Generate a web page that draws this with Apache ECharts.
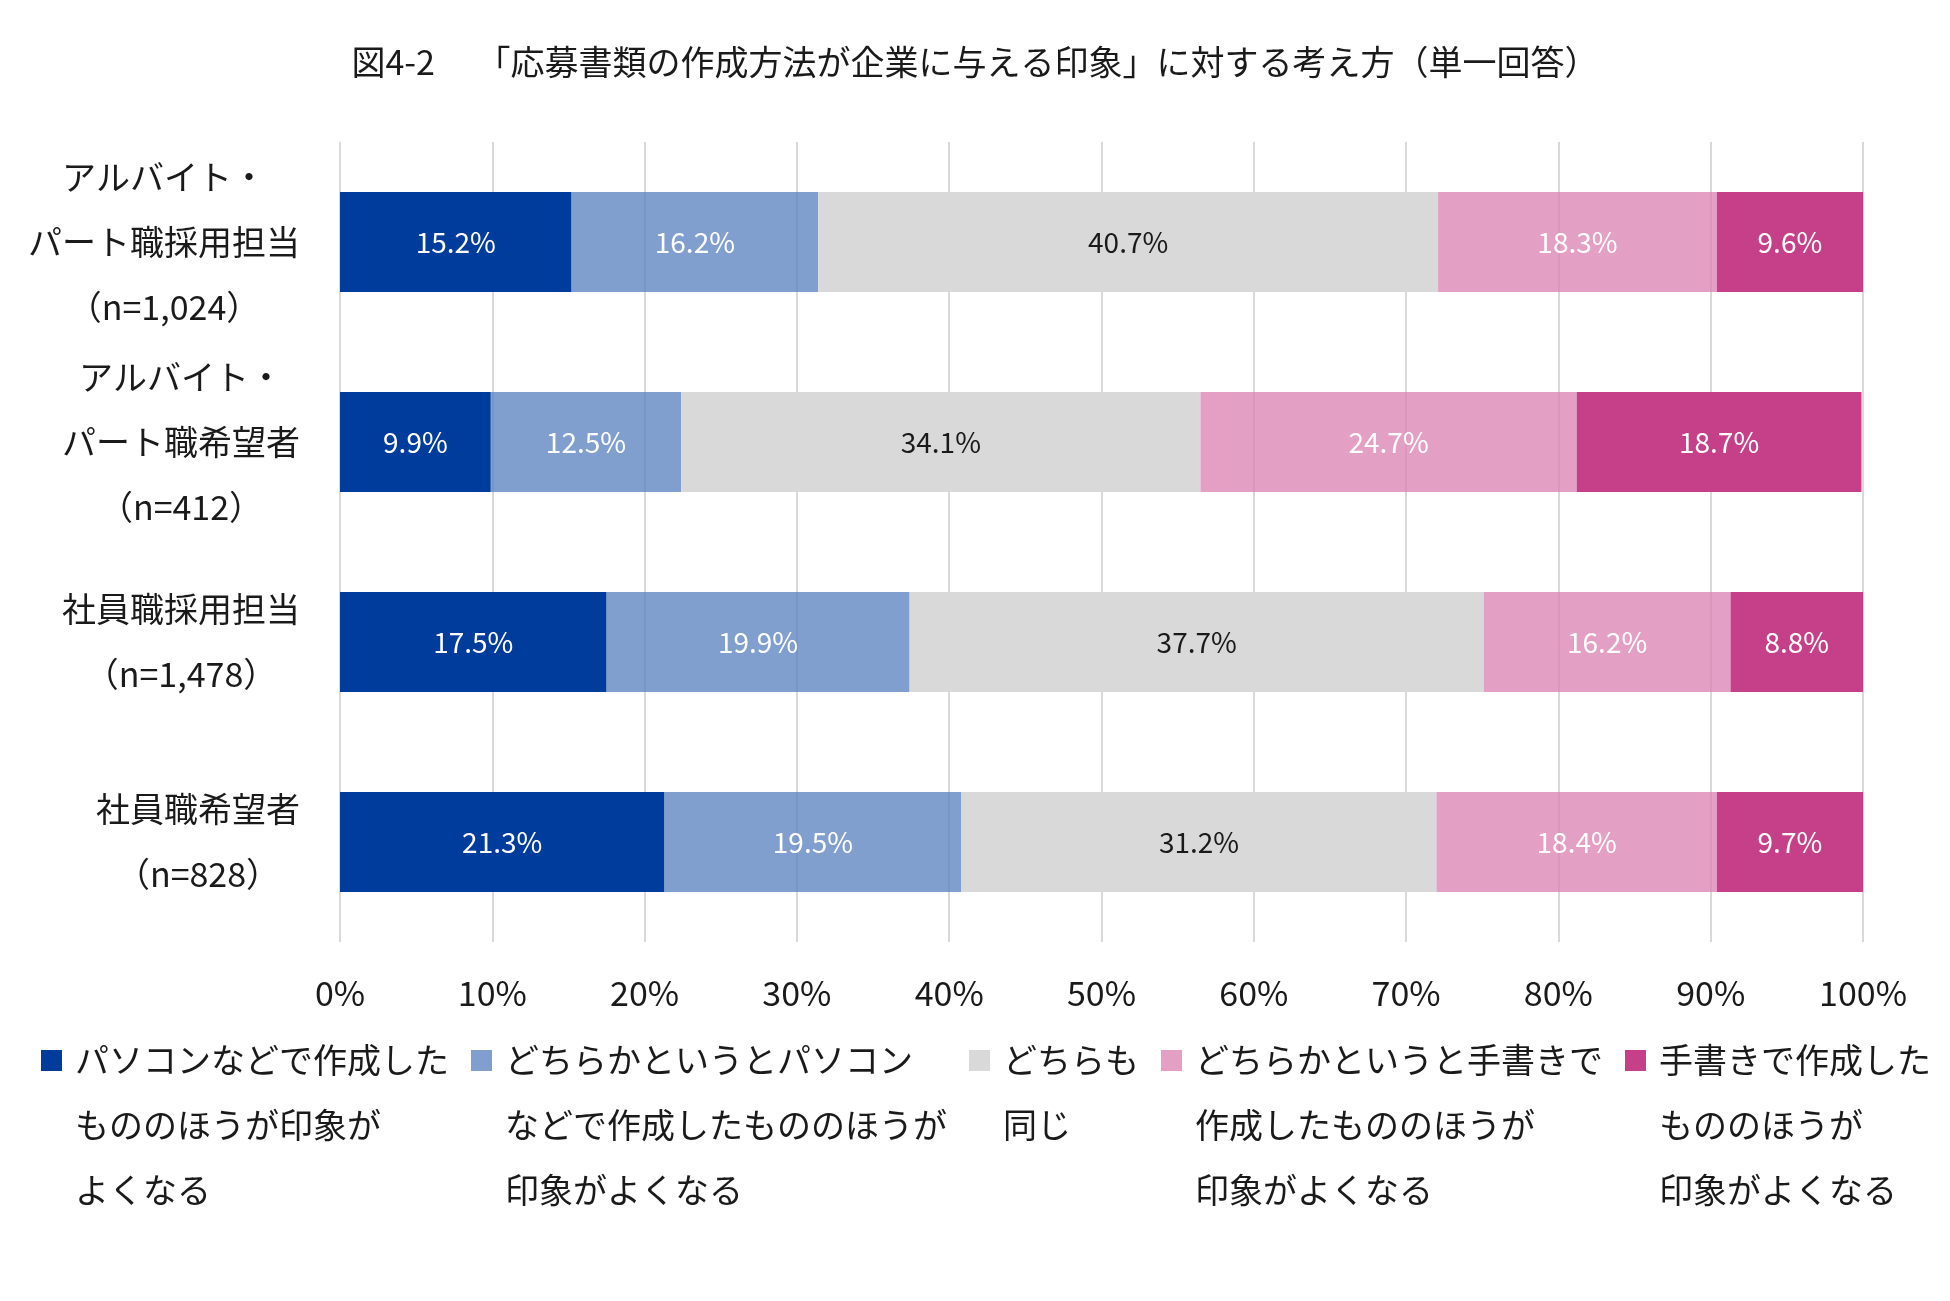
<!DOCTYPE html>
<html>
<head>
<meta charset="utf-8">
<title>図4-2</title>
<script src="https://cdn.jsdelivr.net/npm/echarts@6/dist/echarts.min.js"></script>
<style>
html, body { margin: 0; padding: 0; background: #fff; }
#main { width: 1950px; height: 1301px; }
</style>
</head>
<body>
<div id="main"></div>
<script>
// 回答者区分（上から順）
var categories = [
	'アルバイト・\nパート職採用担当\n（n=1,024）',
	'アルバイト・\nパート職希望者\n（n=412）',
	'社員職採用担当\n（n=1,478）',
	'社員職希望者\n（n=828）'
];

var seriesNames = [
	'パソコンなどで作成した\nもののほうが印象が\nよくなる',
	'どちらかというとパソコン\nなどで作成したもののほうが\n印象がよくなる',
	'どちらも\n同じ',
	'どちらかというと手書きで\n作成したもののほうが\n印象がよくなる',
	'手書きで作成した\nもののほうが\n印象がよくなる'
];

var pcBetter = [15.2, 9.9, 17.5, 21.3];
var pcSomewhat = [16.2, 12.5, 19.9, 19.5];
var same = [40.7, 34.1, 37.7, 31.2];
var handSomewhat = [18.3, 24.7, 16.2, 18.4];
var handBetter = [9.6, 18.7, 8.8, 9.7];

var xTicks = [0, 10, 20, 30, 40, 50, 60, 70, 80, 90, 100];

var colors = ['#003c9c', 'rgba(86,126,190,0.75)', '#d9d9d9', 'rgba(219,127,176,0.75)', '#c54088'];
var labelColors = ['#fff', '#fff', '#1a1a1a', '#fff', '#fff'];
var values = [pcBetter, pcSomewhat, same, handSomewhat, handBetter];

var FONT = '"Noto Sans CJK JP", "Noto Sans", sans-serif';

var myChart = echarts.init(document.getElementById('main'));

var series = seriesNames.map(function(name, i) {
	return {
		name : name,
		type : 'bar',
		stack : 'total',
		barWidth : 100,
		data : values[i],
		itemStyle : {
			color : colors[i]
		},
		label : {
			show : true,
			position : 'inside',
			fontSize : 28,
			fontFamily : FONT,
			color : labelColors[i],
			formatter : function(p) {
				return p.value.toFixed(1) + '%';
			}
		}
	};
});

option = {
	backgroundColor : '#fff',
	textStyle : {
		fontFamily : FONT
	},
	title : {
		text : '図4-2　 「応募書類の作成方法が企業に与える印象」に対する考え方（単一回答）',
		left : 'center',
		top : 45,
		padding : 0,
		textStyle : {
			fontSize : 34,
			fontWeight : 'normal',
			color : '#1a1a1a',
			fontFamily : FONT
		}
	},
	legend : {
		data : seriesNames,
		left : 41,
		right : 0,
		top : 898,
		padding : 0,
		itemGap : 22,
		itemWidth : 21,
		itemHeight : 21,
		icon : 'rect',
		// 凡例の四角を1行目に合わせるため上に空行を足す
		formatter : function(name) {
			var n = name.split('\n').length;
			return new Array(n).join('\n') + name;
		},
		textStyle : {
			fontSize : 34,
			lineHeight : 65,
			padding : [ 0, 0, 0, 8 ],
			color : '#1a1a1a',
			fontFamily : FONT
		}
	},
	grid : {
		left : 340,
		right : 87,
		top : 142,
		height : 800
	},
	xAxis : {
		type : 'value',
		min : xTicks[0],
		max : xTicks[xTicks.length - 1],
		interval : 10,
		axisLine : { show : false },
		axisTick : { show : false },
		splitLine : {
			lineStyle : { color : '#d9d9d9', width : 2 }
		},
		axisLabel : {
			fontSize : 34,
			margin : 34,
			color : '#1a1a1a',
			fontFamily : FONT,
			formatter : '{value}%'
		}
	},
	yAxis : {
		type : 'category',
		inverse : true,
		data : categories,
		axisLine : { show : false },
		axisTick : { show : false },
		axisLabel : {
			margin : 40,
			formatter : function(v) {
				return v.split('\n').map(function(s) {
					return '{c|' + s + '}';
				}).join('\n');
			},
			rich : {
				c : {
					align : 'center',
					fontSize : 34,
					lineHeight : 65,
					color : '#1a1a1a',
					fontFamily : FONT
				}
			}
		}
	},
	series : series
};
myChart.setOption(option);
</script>
</body>
</html>
